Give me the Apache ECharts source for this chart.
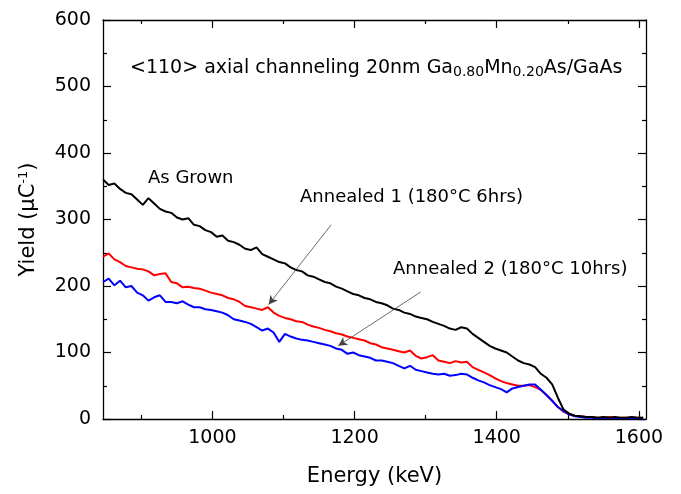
<!DOCTYPE html>
<html>
<head>
<meta charset="utf-8">
<script src="https://cdn.jsdelivr.net/npm/echarts@6/dist/echarts.min.js"></script>
<style>
  html, body { margin: 0; padding: 0; background: #fff; }
  #chart { width: 681px; height: 494px; }
</style>
</head>
<body>
<div id="chart"></div>
<script>
// energy channels (keV)
var energy = [846, 854, 862, 870, 878, 886, 894, 902, 910, 918, 926, 934, 942, 950, 958, 966, 974, 982, 990, 998,
  1006, 1014, 1022, 1030, 1038, 1046, 1054, 1062, 1070, 1078, 1086, 1094, 1102, 1110, 1118, 1126, 1134, 1142, 1150, 1158,
  1166, 1174, 1182, 1190, 1198, 1206, 1214, 1222, 1230, 1238, 1246, 1254, 1262, 1270, 1278, 1286, 1294, 1302, 1310, 1318,
  1326, 1334, 1342, 1350, 1358, 1366, 1374, 1382, 1390, 1398, 1406, 1414, 1422, 1430, 1438, 1446, 1454, 1462, 1470, 1478,
  1486, 1494, 1502, 1510, 1518, 1526, 1534, 1542, 1550, 1558, 1566, 1574, 1582, 1590, 1598, 1606];

// As Grown
var asGrown = [360, 352, 354, 346, 340, 338, 330, 322, 332, 324, 316, 312, 310, 303, 300, 302, 292, 290, 284, 281,
  274, 276, 268, 266, 262, 256, 254, 258, 248, 244, 240, 236, 234, 228, 224, 222, 216, 214, 210, 206,
  204, 199, 196, 192, 188, 186, 182, 180, 176, 174, 171, 166, 164, 160, 158, 154, 152, 150, 146, 143,
  140, 136, 134, 138, 136, 128, 122, 116, 110, 106, 103, 100, 94, 88, 84, 82, 78, 68, 62, 52,
  32, 14, 8, 5, 4, 3, 3, 2, 3, 2, 3, 2, 2, 3, 2, 2];

// Annealed 1 (180°C 6hrs)
var annealed1 = [244, 249, 240, 236, 230, 228, 226, 225, 222, 216, 218, 219, 206, 204, 198, 199, 197, 196, 193, 190,
  188, 186, 182, 180, 176, 170, 168, 166, 164, 168, 160, 155, 152, 150, 147, 146, 142, 139, 137, 134,
  132, 129, 127, 124, 122, 120, 118, 114, 112, 108, 106, 104, 102, 100, 103, 95, 91, 93, 96, 88,
  86, 84, 87, 85, 86, 78, 74, 70, 66, 61, 57, 54, 52, 50, 50, 51, 48, 44, 36, 28,
  18, 11, 7, 5, 4, 3, 3, 2, 2, 3, 2, 2, 2, 2, 2, 2];

// Annealed 2 (180°C 10hrs)
var annealed2 = [206, 211, 201, 208, 198, 200, 190, 186, 178, 183, 186, 176, 176, 174, 177, 172, 168, 168, 165, 164,
  162, 160, 156, 150, 148, 146, 143, 138, 133, 136, 130, 116, 128, 124, 121, 119, 118, 116, 114, 112,
  110, 106, 104, 98, 100, 96, 94, 92, 88, 88, 86, 84, 80, 76, 80, 74, 72, 70, 68, 67,
  68, 65, 66, 68, 67, 62, 58, 55, 51, 48, 45, 40, 46, 48, 50, 52, 52, 44, 36, 27,
  18, 12, 7, 4, 3, 2, 2, 1, 2, 1, 2, 1, 1, 2, 1, 1];

var majorX = [1000, 1200, 1400, 1600];
var minorX = [900, 1100, 1300, 1500];

// arrows: [from, to] in data coordinates
var arrow1 = [[1167, 292], [1079, 172]];
var arrow2 = [[1293, 191], [1177, 110]];

function pairs(ys) {
  var out = [];
  for (var i = 0; i < energy.length; i++) out.push([energy[i], ys[i]]);
  return out;
}

var FONT = 'DejaVu Sans';
var chart = echarts.init(document.getElementById('chart'));

function xAxisDef(pos, ticks, len, showLine, showLabel) {
  return {
    type: 'value', position: pos, min: 846, max: 1610,
    axisLine: { show: showLine, lineStyle: { color: '#000', width: 1.3 } },
    axisTick: { show: true, inside: true, length: len, customValues: ticks, lineStyle: { color: '#000', width: 1.2 } },
    axisLabel: {
      show: showLabel, customValues: ticks, margin: 10, color: '#000', fontSize: 19, fontFamily: FONT,
      formatter: function (v) { return String(v); }
    },
    splitLine: { show: false }
  };
}
function yAxisDef(pos, showLabel) {
  return {
    type: 'value', position: pos, min: 0, max: 600, interval: 100,
    axisLine: { show: true, lineStyle: { color: '#000', width: 1.3 } },
    axisTick: { show: true, inside: true, length: 8, lineStyle: { color: '#000', width: 1.2 } },
    minorTick: { show: true, splitNumber: 2, length: 4, lineStyle: { color: '#000', width: 1.2 } },
    axisLabel: { show: showLabel, margin: 12, color: '#000', fontSize: 19, fontFamily: FONT },
    splitLine: { show: false }
  };
}

var xBottom = xAxisDef('bottom', majorX, 8, true, true);
xBottom.name = 'Energy (keV)';
xBottom.nameLocation = 'middle';
xBottom.nameGap = 47;
xBottom.nameTextStyle = { color: '#000', fontSize: 21, fontFamily: FONT };

var yLeft = yAxisDef('left', true);
yLeft.name = '{m|Yield (\u03BCC}{s|-1}{m|)}';
yLeft.nameLocation = 'middle';
yLeft.nameGap = 62;
yLeft.nameTextStyle = {
  color: '#000', fontFamily: FONT,
  rich: {
    m: { fontSize: 21, fontFamily: FONT, color: '#000', lineHeight: 24, verticalAlign: 'middle' },
    s: { fontSize: 13, fontFamily: FONT, color: '#000', lineHeight: 8, verticalAlign: 'top' }
  }
};

var option = {
  animation: false,
  backgroundColor: '#fff',
  grid: { left: 103, right: 35, top: 20, bottom: 75, containLabel: false },
  xAxis: [
    xBottom,
    xAxisDef('bottom', minorX, 4, false, false),
    xAxisDef('top', majorX, 8, true, false),
    xAxisDef('top', minorX, 4, false, false)
  ],
  yAxis: [yLeft, yAxisDef('right', false)],
  graphic: [
    {
      type: 'text', x: 130, y: 68,
      style: {
        text: '{m|<110> axial channeling 20nm Ga}{s|0.80}{m|Mn}{s|0.20}{m|As/GaAs}',
        verticalAlign: 'middle',
        rich: {
          m: { fontSize: 19, fontFamily: FONT, fill: '#000', lineHeight: 22, verticalAlign: 'middle' },
          s: { fontSize: 14, fontFamily: FONT, fill: '#000', lineHeight: 6, verticalAlign: 'bottom' }
        }
      }
    },
    { type: 'text', x: 148, y: 178, style: { text: 'As Grown', font: '18px "DejaVu Sans"', fill: '#000', verticalAlign: 'middle' } },
    { type: 'text', x: 300, y: 197, style: { text: 'Annealed 1 (180\u00B0C 6hrs)', font: '18px "DejaVu Sans"', fill: '#000', verticalAlign: 'middle' } },
    { type: 'text', x: 393, y: 269, style: { text: 'Annealed 2 (180\u00B0C 10hrs)', font: '18px "DejaVu Sans"', fill: '#000', verticalAlign: 'middle' } }
  ],
  series: [
    {
      name: 'As Grown', type: 'line', data: pairs(asGrown), showSymbol: false,
      lineStyle: { color: '#000', width: 2 }, z: 3,
      markLine: {
        silent: true, symbol: ['none', 'arrow'], symbolSize: [7, 9],
        label: { show: false },
        lineStyle: { color: '#444', width: 0.8, type: 'solid' },
        data: [
          [{ coord: arrow1[0] }, { coord: arrow1[1] }],
          [{ coord: arrow2[0] }, { coord: arrow2[1] }]
        ]
      }
    },
    {
      name: 'Annealed 1', type: 'line', data: pairs(annealed1), showSymbol: false,
      lineStyle: { color: '#ff0000', width: 2 }, z: 2
    },
    {
      name: 'Annealed 2', type: 'line', data: pairs(annealed2), showSymbol: false,
      lineStyle: { color: '#0000ff', width: 2 }, z: 2
    }
  ]
};
chart.setOption(option);
</script>
</body>
</html>
